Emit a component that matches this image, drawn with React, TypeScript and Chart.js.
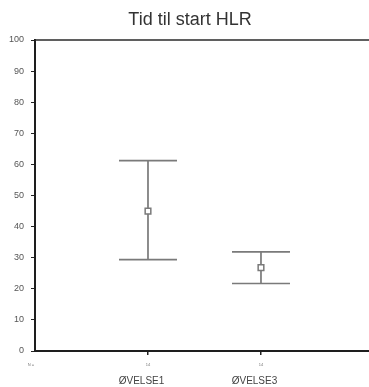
import React, { useEffect, useRef } from "react";
import { Chart, registerables } from "chart.js";

Chart.register(...registerables);

const titleText = "Tid til start HLR";
const categories = ["ØVELSE1", "ØVELSE3"];
const means = [45.0, 26.8];
const upper = [61.2, 31.9];
const lower = [29.4, 21.7];
const nValues = ["14", "14"];
const nLabel = "N =";
const yMin = 0;
const yMax = 100;
const yStep = 10;
const xPositions = [1, 2];

const FONT = "'Liberation Sans', Arial, Helvetica, sans-serif";

const extrasPlugin = {
  id: "extras",
  beforeDatasetsDraw(chart: any) {
    const ctx = chart.ctx;
    const xs = chart.scales.x;
    const ys = chart.scales.y;
    ctx.save();
    ctx.strokeStyle = "#7a7a7a";
    ctx.lineWidth = 1.7;
    const cap = 29;
    for (let i = 0; i < categories.length; i++) {
      const px = xs.getPixelForValue(xPositions[i]);
      const pu = ys.getPixelForValue(upper[i]);
      const pl = ys.getPixelForValue(lower[i]);
      ctx.beginPath();
      ctx.moveTo(px, pu);
      ctx.lineTo(px, pl);
      ctx.moveTo(px - cap, pu);
      ctx.lineTo(px + cap, pu);
      ctx.moveTo(px - cap, pl);
      ctx.lineTo(px + cap, pl);
      ctx.stroke();
    }
    ctx.restore();
  },
  afterDraw(chart: any) {
    const ctx = chart.ctx;
    const xs = chart.scales.x;
    const area = chart.chartArea;
    ctx.save();
    // top border
    ctx.strokeStyle = "#2a2a2a";
    ctx.lineWidth = 1.7;
    ctx.beginPath();
    ctx.moveTo(area.left, area.top);
    ctx.lineTo(chart.width, area.top);
    ctx.stroke();
    // title
    ctx.fillStyle = "#333";
    ctx.font = `18px ${FONT}`;
    ctx.textAlign = "center";
    ctx.textBaseline = "middle";
    ctx.fillText(titleText, chart.width / 2 + 5.5, 20);
    // N row
    ctx.fillStyle = "#777";
    ctx.font = `4px ${FONT}`;
    ctx.fillText(nLabel, area.left - 4, 365);
    for (let i = 0; i < nValues.length; i++) {
      ctx.fillText(nValues[i], xs.getPixelForValue(xPositions[i]), 365);
    }
    ctx.restore();
  },
};

export default function App() {
  const ref = useRef<HTMLCanvasElement | null>(null);
  useEffect(() => {
    if (!ref.current) return;
    const chart = new Chart(ref.current, {
      type: "scatter",
      data: {
        datasets: [
          {
            data: means.map((m, i) => ({ x: xPositions[i], y: m })),
            pointStyle: "rect",
            pointRadius: 4,
            pointBorderWidth: 1.5,
            pointBorderColor: "#7a7a7a",
            pointBackgroundColor: "#ffffff",
            showLine: false,
          },
        ],
      },
      options: {
        responsive: false,
        animation: false,
        layout: { autoPadding: false, padding: { top: 40, left: 0, right: 0, bottom: 0 } },
        plugins: {
          legend: { display: false },
          tooltip: { enabled: false },
          title: { display: false },
        },
        scales: {
          x: {
            type: "linear",
            min: 0,
            max: 2.956,
            afterFit: (s: any) => {
              s.height = 36;
              s.paddingLeft = 0;
              s.paddingRight = 0;
            },
            afterBuildTicks: (s: any) => {
              s.ticks = xPositions.map((v) => ({ value: v }));
            },
            ticks: {
              autoSkip: false,
              maxRotation: 0,
              padding: 20,
              labelOffset: -6.5,
              color: "#444",
              font: { family: FONT, size: 10 },
              callback: (v: any) => {
                const idx = xPositions.indexOf(Number(v));
                return idx >= 0 ? categories[idx] : "";
              },
            },
            grid: {
              drawOnChartArea: false,
              drawTicks: true,
              tickLength: 4,
              color: "#222",
              lineWidth: 1.5,
            },
            border: { display: true, color: "#1e1e1e", width: 2 },
          },
          y: {
            min: yMin,
            max: yMax,
            afterFit: (s: any) => {
              s.width = 35;
            },
            ticks: {
              stepSize: yStep,
              padding: 7,
              color: "#555",
              font: { family: FONT, size: 9 },
            },
            grid: {
              drawOnChartArea: false,
              drawTicks: true,
              tickLength: 4,
              color: "#222",
              lineWidth: 1,
            },
            border: { display: true, color: "#1e1e1e", width: 2 },
          },
        },
      },
      plugins: [extrasPlugin],
    });
    return () => chart.destroy();
  }, []);
  return (
    <div style={{ position: "absolute", left: 0, top: 0, width: 369, height: 387, background: "#fff" }}>
      <canvas ref={ref} width={369} height={387} style={{ display: "block" }} />
    </div>
  );
}
